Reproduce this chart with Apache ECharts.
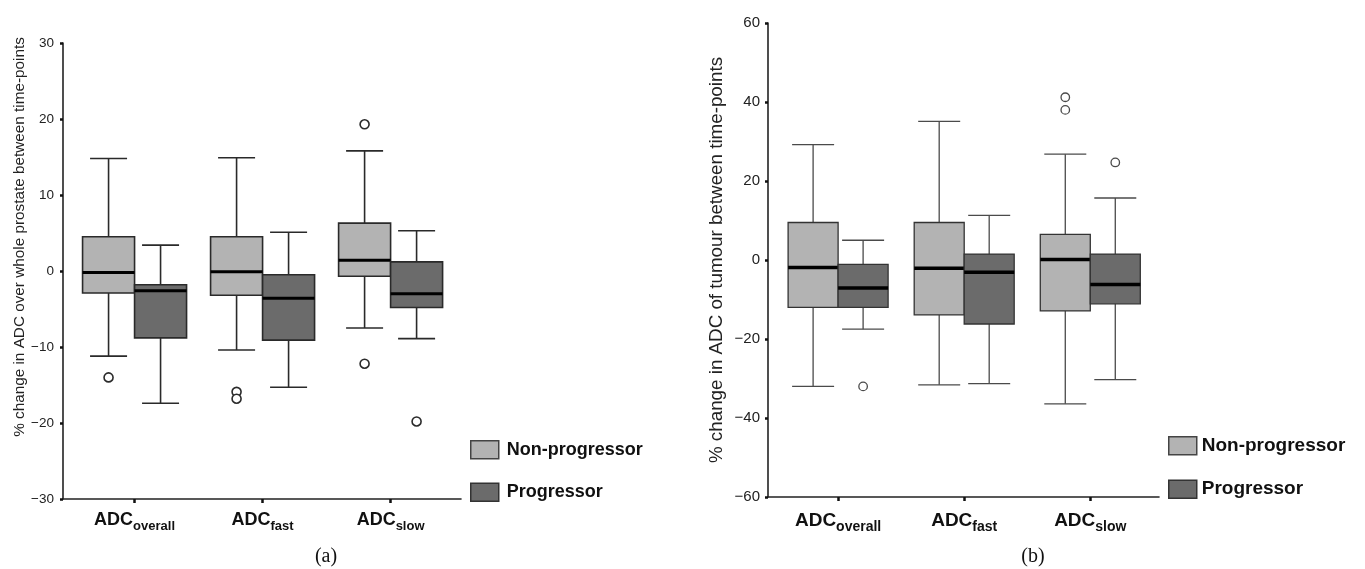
<!DOCTYPE html>
<html>
<head>
<meta charset="utf-8">
<script src="https://cdn.jsdelivr.net/npm/echarts@6/dist/echarts.min.js"></script>
<style>
html,body{margin:0;padding:0;background:#fff;}
#chart{width:1365px;height:569px;}
</style>
</head>
<body>
<div id="chart"></div>
<script>
// ---- DATA ----
const categories = ['overall', 'fast', 'slow'];
const groupNames = ['Non-progressor', 'Progressor'];
const leftTicks = [-30, -20, -10, 0, 10, 20, 30];
const rightTicks = [-60, -40, -20, 0, 20, 40, 60];

// (a) whole prostate: [min, Q1, median, Q3, max] per category
const prostateNonProgressor = [
  [-11.2, -2.9, -0.2, 4.5, 14.8],
  [-10.4, -3.2, -0.1, 4.5, 14.9],
  [-7.5, -0.7, 1.4, 6.3, 15.8]
];
const prostateProgressor = [
  [-17.4, -8.8, -2.6, -1.8, 3.4],
  [-15.3, -9.1, -3.6, -0.5, 5.1],
  [-8.9, -4.8, -3.0, 1.2, 5.3]
];
// outliers: [category index, value]
const prostateNonProgressorOutliers = [[0, -14.0], [1, -15.9], [1, -16.8], [2, 19.3], [2, -12.2]];
const prostateProgressorOutliers = [[2, -19.8]];

// (b) tumour
const tumourNonProgressor = [
  [-32.0, -12.0, -1.9, 9.5, 29.2],
  [-31.6, -13.9, -2.1, 9.5, 35.1],
  [-36.4, -12.9, 0.1, 6.5, 26.8]
];
const tumourProgressor = [
  [-17.5, -12.0, -7.1, -1.1, 5.0],
  [-31.3, -16.2, -3.1, 1.5, 11.3],
  [-30.3, -11.1, -6.2, 1.5, 15.7]
];
const tumourNonProgressorOutliers = [[2, 41.2], [2, 38.0]];
const tumourProgressorOutliers = [[0, -32.0], [2, 24.7]];

// ---- STYLE ----
const FONT = "'Liberation Sans', Arial, sans-serif";
const colNon = '#b3b3b3';
const colProg = '#6b6b6b';

function fmtNum(v) { return v < 0 ? '\u2212' + Math.abs(v) : String(v); }

function boxData(arr) { return arr.map((q, i) => [i].concat(q)); }

function makeRender(side, st) {
  return function (params, api) {
    const x = api.value(0);
    const lo = api.coord([x, api.value(1)]);
    const q1 = api.coord([x, api.value(2)]);
    const md = api.coord([x, api.value(3)]);
    const q3 = api.coord([x, api.value(4)]);
    const hi = api.coord([x, api.value(5)]);
    const cx = lo[0] + side * st.half;
    const line = { stroke: st.stroke, lineWidth: st.lw };
    return {
      type: 'group',
      children: [
        { type: 'line', shape: { x1: cx, y1: hi[1], x2: cx, y2: q3[1] }, style: line },
        { type: 'line', shape: { x1: cx, y1: q1[1], x2: cx, y2: lo[1] }, style: line },
        { type: 'line', shape: { x1: cx - st.cap / 2, y1: hi[1], x2: cx + st.cap / 2, y2: hi[1] }, style: line },
        { type: 'line', shape: { x1: cx - st.cap / 2, y1: lo[1], x2: cx + st.cap / 2, y2: lo[1] }, style: line },
        { type: 'rect', shape: { x: cx - st.half, y: q3[1], width: st.half * 2, height: q1[1] - q3[1] },
          style: { fill: st.fill, stroke: st.boxStroke, lineWidth: st.lw } },
        { type: 'line', shape: { x1: cx - st.half, y1: md[1], x2: cx + st.half, y2: md[1] },
          style: { stroke: '#000', lineWidth: st.medLw } }
      ]
    };
  };
}

function boxSeries(name, data, idx, side, st) {
  return {
    type: 'custom', name: name, xAxisIndex: idx, yAxisIndex: idx,
    data: boxData(data),
    encode: { x: 0, y: [1, 2, 3, 4, 5] },
    itemStyle: { color: st.fill },
    renderItem: makeRender(side, st),
    silent: true, z: 2
  };
}

function outlierSeries(name, data, idx, off, st) {
  return {
    type: 'scatter', name: name, xAxisIndex: idx, yAxisIndex: idx,
    data: data, symbol: 'circle', symbolSize: st.sym, symbolOffset: [off, 0],
    itemStyle: { color: '#fff', borderColor: st.stroke, borderWidth: st.lw, opacity: 1 },
    silent: true, z: 3
  };
}

const stL = { half: 26, cap: 37, lw: 1.6, medLw: 3, stroke: '#2a2a2a', boxStroke: '#2a2a2a', sym: 9 };
const stR = { half: 25, cap: 42, lw: 1.3, medLw: 3.5, stroke: '#4a4a4a', boxStroke: '#333', sym: 8.5 };

function xAxisCfg(gridIndex, min, max, adcSize, subSize, margin, subPad) {
  return {
    type: 'value', gridIndex: gridIndex, min: min, max: max,
    splitLine: { show: false },
    axisLine: { show: true, onZero: false, lineStyle: { color: '#222', width: 1.6 } },
    axisTick: { show: true, customValues: [0, 1, 2], length: 4, inside: false, lineStyle: { color: '#111', width: 2.5 } },
    axisLabel: {
      show: true, customValues: [0, 1, 2], margin: margin,
      formatter: function (v) { return '{a|ADC}{b|' + categories[Math.round(v)] + '}'; },
      rich: {
        a: { fontFamily: FONT, fontWeight: 'bold', fontSize: adcSize, color: '#111', lineHeight: 22, verticalAlign: 'top' },
        b: { fontFamily: FONT, fontWeight: 'bold', fontSize: subSize, color: '#111', lineHeight: 22, verticalAlign: 'top', padding: [subPad, 0, 0, 0] }
      }
    }
  };
}

function yAxisCfg(gridIndex, min, max, interval, fs, margin, name, nameFs, nameGap, namePad) {
  return {
    type: 'value', gridIndex: gridIndex, min: min, max: max, interval: interval,
    splitLine: { show: false },
    axisLine: { show: true, onZero: false, lineStyle: { color: '#222', width: 1.6 } },
    axisTick: { show: true, length: 3, lineStyle: { color: '#111', width: 2.5 } },
    axisLabel: { fontFamily: FONT, fontSize: fs, color: '#222', margin: margin, formatter: fmtNum },
    name: name, nameLocation: 'middle', nameGap: nameGap,
    nameTextStyle: { fontFamily: FONT, fontSize: nameFs, color: '#222', padding: namePad }
  };
}

const chart = echarts.init(document.getElementById('chart'), null, { renderer: 'canvas' });

const legendItems = [
  { name: groupNames[0], icon: 'rect', itemStyle: { color: colNon, borderColor: '#444', borderWidth: 1.5 } },
  { name: groupNames[1], icon: 'rect', itemStyle: { color: colProg, borderColor: '#333', borderWidth: 1.5 } }
];

const option = {
  animation: false,
  backgroundColor: '#fff',
  grid: [
    { left: 63, top: 43, width: 398, height: 456 },
    { left: 768, top: 23, width: 391, height: 474 }
  ],
  xAxis: [
    xAxisCfg(0, -0.559, 2.55, 18, 13, 12, 9),
    xAxisCfg(1, -0.556, 2.545, 19, 14, 14, 9)
  ],
  yAxis: [
    yAxisCfg(0, leftTicks[0], leftTicks[leftTicks.length - 1], 10, 13.5, 9,
      '% change in ADC over whole prostate between time-points', 15.3, 36, [0, 0, 0, 68]),
    yAxisCfg(1, rightTicks[0], rightTicks[rightTicks.length - 1], 20, 15, 8,
      '% change in ADC of tumour between time-points', 18.8, 42, [0, 0, 0, 0])
  ],
  legend: [
    { orient: 'vertical', left: 470, top: 440, padding: 0, itemWidth: 28, itemHeight: 18, itemGap: 23,
      selectedMode: false, data: legendItems,
      textStyle: { fontFamily: FONT, fontWeight: 'bold', fontSize: 18, color: '#111', lineHeight: 18, padding: [0, 0, 0, 3] } },
    { orient: 'vertical', left: 1168, top: 436, padding: 0, itemWidth: 28, itemHeight: 18, itemGap: 24,
      selectedMode: false, data: legendItems,
      textStyle: { fontFamily: FONT, fontWeight: 'bold', fontSize: 19, color: '#111', lineHeight: 18 } }
  ],
  graphic: [
    { type: 'text', x: 326, y: 557, style: { text: '(a)', font: "20px 'Liberation Serif', serif", fill: '#111', textAlign: 'center', textVerticalAlign: 'middle' } },
    { type: 'text', x: 1033, y: 557, style: { text: '(b)', font: "20px 'Liberation Serif', serif", fill: '#111', textAlign: 'center', textVerticalAlign: 'middle' } }
  ],
  series: [
    boxSeries(groupNames[0], prostateNonProgressor, 0, -1, Object.assign({ fill: colNon }, stL)),
    boxSeries(groupNames[1], prostateProgressor, 0, 1, Object.assign({ fill: colProg }, stL)),
    outlierSeries(groupNames[0], prostateNonProgressorOutliers, 0, -stL.half, stL),
    outlierSeries(groupNames[1], prostateProgressorOutliers, 0, stL.half, stL),
    boxSeries(groupNames[0], tumourNonProgressor, 1, -1, Object.assign({ fill: colNon }, stR)),
    boxSeries(groupNames[1], tumourProgressor, 1, 1, Object.assign({ fill: colProg }, stR)),
    outlierSeries(groupNames[0], tumourNonProgressorOutliers, 1, -stR.half, stR),
    outlierSeries(groupNames[1], tumourProgressorOutliers, 1, stR.half, stR)
  ]
};
chart.setOption(option);
</script>
</body>
</html>
